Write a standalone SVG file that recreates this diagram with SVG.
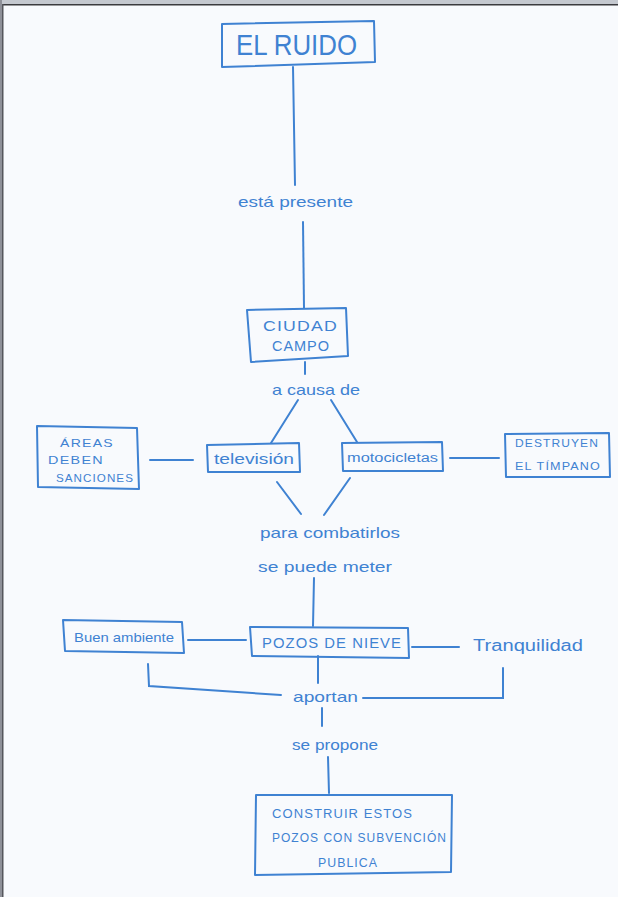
<svg xmlns="http://www.w3.org/2000/svg" width="618" height="897" viewBox="0 0 618 897">
<style>
.b{fill:none;stroke:#3f82d2;stroke-width:2;stroke-linejoin:round}
.l{fill:none;stroke:#3f82d2;stroke-width:2;stroke-linecap:round}
text{font-family:"Liberation Sans",Arial,sans-serif;fill:#3f82d2}
.cap{font-size:13px;letter-spacing:1px}
.low{font-size:15px}
</style>
<rect width="618" height="897" fill="#f8fafd"/>
<rect x="0" y="0" width="618" height="4" fill="#c4c8cf"/>
<rect x="0" y="4" width="618" height="1.5" fill="#3a3a3e"/>
<rect x="0" y="0" width="2" height="897" fill="#8e9098"/>
<rect x="2" y="4" width="1.5" height="893" fill="#55565c"/>

<g id="connectors">
<path class="l" d="M293 67 L295 185"/>
<path class="l" d="M303 222 L304 308"/>
<path class="l" d="M305 362 L305 374"/>
<path class="l" d="M298 400 L271 443"/>
<path class="l" d="M331 400 L357 442"/>
<path class="l" d="M150 460 L193 460"/>
<path class="l" d="M450 458 L499 458"/>
<path class="l" d="M277 482 L301 514"/>
<path class="l" d="M350 478 L324 515"/>
<path class="l" d="M314 578 L313 626"/>
<path class="l" d="M188 640 L246 640"/>
<path class="l" d="M412 647 L459 647"/>
<path class="l" d="M318 656 L318 683"/>
<path class="l" d="M148 664 L149 686 L281 695"/>
<path class="l" d="M503 668 L503 698 L363 698"/>
<path class="l" d="M322 708 L322 726"/>
<path class="l" d="M328 757 L329 793"/>
</g>

<g id="el-ruido">
<path class="b" d="M222 24 L374 21 L375 62 L222 67 Z"/>
<text x="236" y="55" style="font-size:29px" textLength="121" lengthAdjust="spacingAndGlyphs">EL RUIDO</text>
</g>

<g id="esta-presente">
<text class="low" x="238" y="207" textLength="115" lengthAdjust="spacingAndGlyphs">está presente</text>
</g>

<g id="ciudad-campo">
<path class="b" d="M247 310 L346 308 L348 356 L251 362 Z"/>
<text class="cap" x="263" y="331" style="font-size:15px" textLength="75" lengthAdjust="spacingAndGlyphs">CIUDAD</text>
<text class="cap" x="272" y="351" style="font-size:15px" textLength="58" lengthAdjust="spacingAndGlyphs">CAMPO</text>
</g>

<g id="a-causa-de">
<text class="low" x="272" y="395" textLength="88" lengthAdjust="spacingAndGlyphs">a causa de</text>
</g>

<g id="areas">
<path class="b" d="M37 426 L137 428 L139 489 L38 487 Z"/>
<text class="cap" x="60" y="447" style="font-size:11px" textLength="54" lengthAdjust="spacingAndGlyphs">ÁREAS</text>
<text class="cap" x="48" y="464" style="font-size:11px" textLength="56" lengthAdjust="spacingAndGlyphs">DEBEN</text>
<text class="cap" x="56" y="482" style="font-size:11px" textLength="78" lengthAdjust="spacingAndGlyphs">SANCIONES</text>
</g>

<g id="television">
<path class="b" d="M207 445 L299 443 L300 472 L208 472 Z"/>
<text class="low" x="214" y="464" textLength="80" lengthAdjust="spacingAndGlyphs">televisión</text>
</g>

<g id="motocicletas">
<path class="b" d="M342 443 L442 442 L443 471 L343 471 Z"/>
<text x="347" y="462" style="font-size:12px" textLength="91" lengthAdjust="spacingAndGlyphs">motocicletas</text>
</g>

<g id="destruyen">
<path class="b" d="M505 434 L609 433 L610 477 L506 477 Z"/>
<text class="cap" x="515" y="447" style="font-size:11px" textLength="84" lengthAdjust="spacingAndGlyphs">DESTRUYEN</text>
<text class="cap" x="515" y="470" style="font-size:11px" textLength="86" lengthAdjust="spacingAndGlyphs">EL TÍMPANO</text>
</g>

<g id="para-combatirlos">
<text class="low" x="260" y="538" textLength="140" lengthAdjust="spacingAndGlyphs">para combatirlos</text>
<text class="low" x="258" y="572" textLength="134" lengthAdjust="spacingAndGlyphs">se puede meter</text>
</g>

<g id="buen-ambiente">
<path class="b" d="M63 620 L182 622 L184 653 L65 651 Z"/>
<text x="74" y="642" style="font-size:13px" textLength="100" lengthAdjust="spacingAndGlyphs">Buen ambiente</text>
</g>

<g id="pozos">
<path class="b" d="M250 627 L408 628 L409 658 L252 656 Z"/>
<text class="cap" x="262" y="648" style="font-size:14px" textLength="140" lengthAdjust="spacingAndGlyphs">POZOS DE NIEVE</text>
</g>

<g id="tranquilidad">
<text x="473" y="651" style="font-size:16px" textLength="110" lengthAdjust="spacingAndGlyphs">Tranquilidad</text>
</g>

<g id="aportan">
<text class="low" x="293" y="702" textLength="65" lengthAdjust="spacingAndGlyphs">aportan</text>
</g>

<g id="se-propone">
<text class="low" x="292" y="750" textLength="86" lengthAdjust="spacingAndGlyphs">se propone</text>
</g>

<g id="construir">
<path class="b" d="M256 795 L452 795 L451 872 L255 875 Z"/>
<text class="cap" x="272" y="818" style="font-size:12px" textLength="141" lengthAdjust="spacingAndGlyphs">CONSTRUIR ESTOS</text>
<text class="cap" x="272" y="842" style="font-size:12px" textLength="175" lengthAdjust="spacingAndGlyphs">POZOS CON SUBVENCIÓN</text>
<text class="cap" x="318" y="867" style="font-size:12px" textLength="60" lengthAdjust="spacingAndGlyphs">PUBLICA</text>
</g>
</svg>
